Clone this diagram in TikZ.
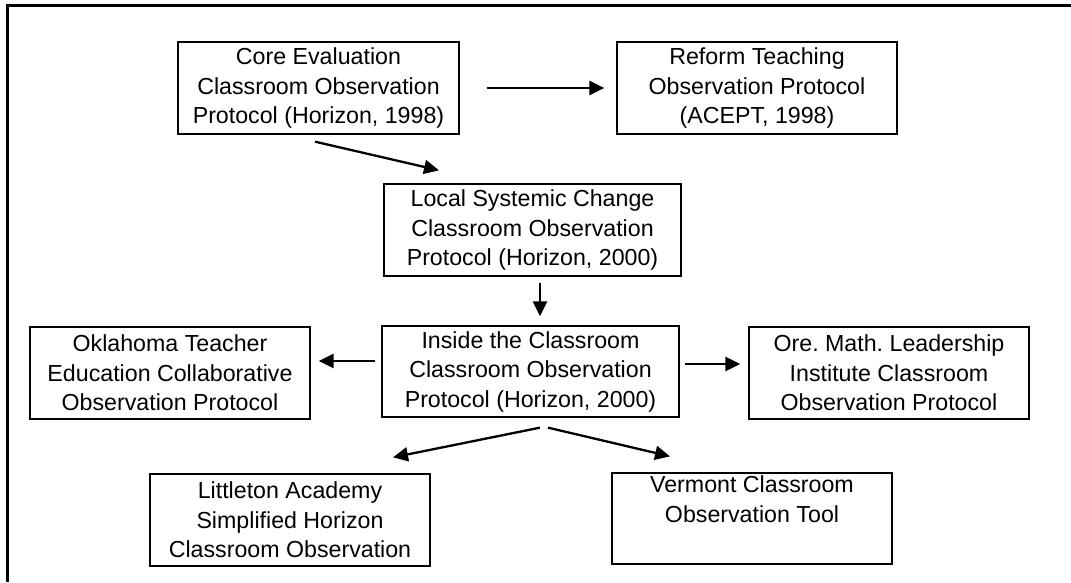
\documentclass[tikz,border=0pt]{standalone}
\usepackage{fontspec}
\setmainfont{Liberation Sans}
\usetikzlibrary{arrows.meta}
\frenchspacing
\begin{document}
\begin{tikzpicture}[x=1pt,y=1pt,
  box/.style={draw=black, line width=1.3pt, rectangle, inner sep=0pt, align=center,
    font=\fontsize{23.2}{29.5}\selectfont, minimum height=92pt},
  arr/.style={line width=2.3pt, -{Triangle[length=15pt,width=14pt]}},
  frame/.style={line width=3pt}]
\useasboundingbox (0,0) rectangle (1071,582);
\draw[frame] (7.5,0) -- (7.5,576) -- (1071,576);
\node[box, minimum width=281pt] (core) at (318.5,494) {Core Evaluation\\Classroom Observation\\Protocol (Horizon, 1998)};
\node[box, minimum width=280pt] (reform) at (757,494) {Reform Teaching\\Observation Protocol\\(ACEPT, 1998)};
\node[box, minimum width=297pt] (local) at (532.5,352) {Local Systemic Change\\Classroom Observation\\Protocol (Horizon, 2000)};
\node[box, minimum width=297pt, minimum height=91pt] (inside) at (530.5,210.5) {Inside the Classroom\\Classroom Observation\\Protocol (Horizon, 2000)};
\node[box, minimum width=280pt] (okla) at (170,209) {Oklahoma Teacher\\Education Collaborative\\Observation Protocol};
\node[box, minimum width=280pt] (ore) at (889,209) {Ore. Math. Leadership\\Institute Classroom\\Observation Protocol};
\node[box, minimum width=280pt] (litt) at (290,62) {Littleton Academy\\Simplified Horizon\\Classroom Observation};
\node[box, minimum width=280pt, minimum height=91pt] (verm) at (752,63.5) {Vermont Classroom\\Observation Tool\\\strut};
\draw[arr] ([xshift=27pt]core.east) -- ([xshift=-12pt]reform.west);
\draw[arr] ([shift={(-3.5pt,-7pt)}]core.south) -- ([shift={(-93.5pt,13pt)}]local.north);
\draw[arr] ([shift={(7.5pt,-6pt)}]local.south) -- ([shift={(9.5pt,9pt)}]inside.north);
\draw[arr] ([shift={(-6pt,10.5pt)}]inside.west) -- ([shift={(8pt,12pt)}]okla.east);
\draw[arr] ([shift={(5pt,7.5pt)}]inside.east) -- ([shift={(-8pt,9pt)}]ore.west);
\draw[arr] ([shift={(9.5pt,-10pt)}]inside.south) -- ([shift={(103pt,16pt)}]litt.north);
\draw[arr] ([shift={(17.5pt,-10pt)}]inside.south) -- ([shift={(-82pt,16pt)}]verm.north);
\end{tikzpicture}
\end{document}
